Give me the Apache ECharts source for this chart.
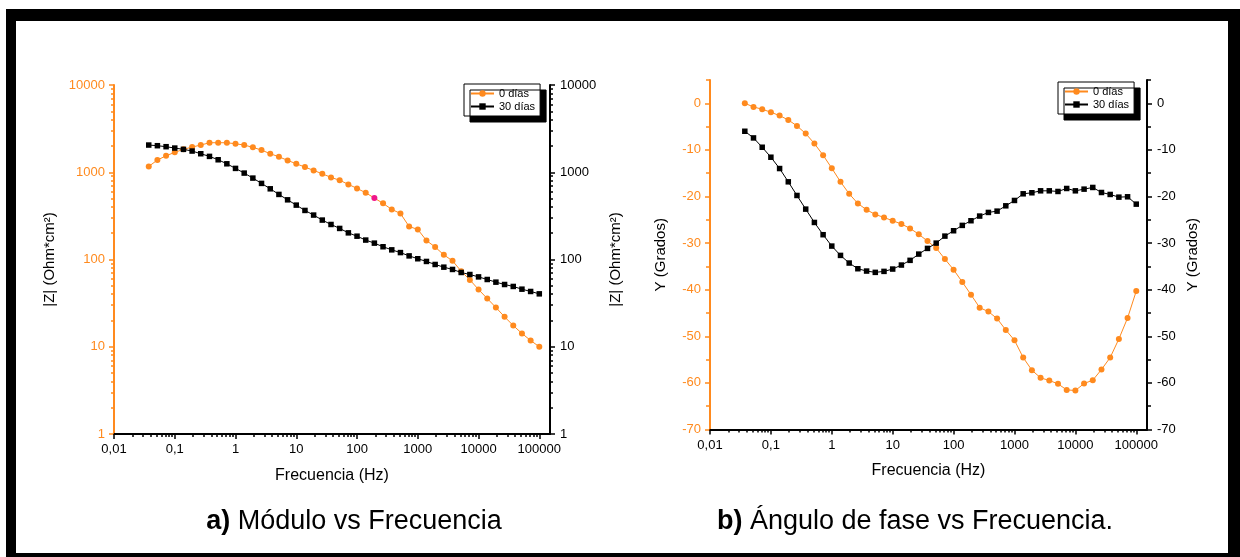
<!DOCTYPE html>
<html><head><meta charset="utf-8">
<script src="https://cdn.jsdelivr.net/npm/echarts@6/dist/echarts.min.js"></script>
<style>html,body{margin:0;padding:0;background:#fff}#c{width:1240px;height:557px}</style>
</head><body><div id="c"></div>
<script>
// ---- data ----
const freq = [0.0373, 0.0518, 0.0720, 0.1, 0.139, 0.193, 0.268, 0.373, 0.518, 0.720,
  1, 1.39, 1.93, 2.68, 3.73, 5.18, 7.20, 10, 13.9, 19.3, 26.8, 37.3, 51.8, 72.0,
  100, 139, 193, 268, 373, 518, 720, 1000, 1389, 1931, 2683, 3728, 5179, 7197,
  10000, 13895, 19307, 26827, 37276, 51795, 71969, 100000];
const modulo0 = [1167, 1380, 1545, 1690, 1830, 1945, 2050, 2180, 2180, 2180, 2120, 2050,
  1930, 1795, 1630, 1505, 1368, 1250, 1146, 1050, 960, 873, 810, 726, 653, 582, 506,
  440, 375, 337, 239, 221, 165, 139, 113, 96.6, 73.5, 58.4, 45.3, 35.7, 28.2, 22.0,
  17.5, 14.2, 11.8, 10.0];
const modulo30 = [2050, 2015, 1963, 1893, 1830, 1750, 1630, 1520, 1390, 1250, 1107, 978,
  857, 745, 646, 557, 483, 420, 365, 323, 283, 252, 227, 202, 185, 167, 154, 140, 129,
  120, 110, 102, 95, 87.7, 81.7, 76.9, 71.0, 67.3, 63.2, 59.0, 55.0, 51.7, 49.1, 45.7,
  43.0, 40.4];
const fase0 = [0, -0.78, -1.28, -1.92, -2.64, -3.57, -4.85, -6.5, -8.64, -11.14, -13.93,
  -16.85, -19.42, -21.5, -22.85, -23.85, -24.5, -25.2, -25.9, -26.85, -28.1, -29.57,
  -31.07, -33.43, -35.7, -38.36, -41.06, -43.85, -44.7, -46.2, -48.64, -50.85, -54.56,
  -57.27, -58.92, -59.48, -60.2, -61.5, -61.63, -60.13, -59.42, -57.13, -54.56, -50.56,
  -46.07, -40.28];
const fase30 = [-6.0, -7.43, -9.43, -11.57, -14.0, -16.85, -19.78, -22.71, -25.57, -28.2,
  -30.64, -32.64, -34.28, -35.5, -36.0, -36.28, -36.07, -35.57, -34.71, -33.7, -32.36,
  -31.14, -30.0, -28.5, -27.35, -26.2, -25.2, -24.2, -23.42, -23.14, -22.0, -20.85,
  -19.42, -19.2, -18.78, -18.78, -18.92, -18.28, -18.78, -18.42, -18.06, -19.14, -19.56,
  -20.14, -20.06, -21.64];
const highlightIndex0 = 26; // single magenta point in panel a
const seriesNames = ['0 días', '30 días'];
const xTickVals = [0.01, 0.1, 1, 10, 100, 1000, 10000, 100000];
const xTickText = ['0,01', '0,1', '1', '10', '100', '1000', '10000', '100000'];
const yTickValsA = [1, 10, 100, 1000, 10000];
const yTickTextA = ['1', '10', '100', '1000', '10000'];
const yTickValsB = [-70, -60, -50, -40, -30, -20, -10, 0];
const yMinorValsB = [-65, -55, -45, -35, -25, -15, -5, 5];
const captionA = ['a)', ' Módulo vs Frecuencia'];
const captionB = ['b)', ' Ángulo de fase vs Frecuencia.'];

// ---- styling ----
const ORANGE = '#FF8A1E';
const MAGENTA = '#F0168A';
const FONT = "'Liberation Sans', Arial, sans-serif";

function logMinors(lo, hi) {
  const out = [];
  for (let d = lo; d < hi; d++) for (let m = 2; m <= 9; m++) out.push(+(m * Math.pow(10, d)).toPrecision(6));
  return out;
}
function labelFrom(vals, texts) {
  return function (v) {
    for (let i = 0; i < vals.length; i++) if (Math.abs(v - vals[i]) <= Math.abs(vals[i]) * 1e-6 + 1e-9) return texts[i];
    return '';
  };
}
const xMinor = logMinors(-2, 5);
const yMinorA = logMinors(0, 4);

function xAxes(g) {
  return [{
    type: 'log', gridIndex: g, min: 0.01, max: 150000, position: 'bottom',
    axisLine: { onZero: false, lineStyle: { color: '#000', width: 2 } },
    axisTick: { customValues: xTickVals, length: 5, lineStyle: { color: '#000', width: 1.5 } },
    axisLabel: { customValues: xTickVals, formatter: labelFrom(xTickVals, xTickText), color: '#000', fontSize: 13, fontFamily: FONT, margin: 9 },
    splitLine: { show: false },
    name: 'Frecuencia (Hz)', nameLocation: 'middle', nameGap: g === 0 ? 34 : 33,
    nameTextStyle: { fontSize: 16, color: '#000', fontFamily: FONT }
  }, {
    type: 'log', gridIndex: g, min: 0.01, max: 150000, position: 'bottom',
    axisLine: { show: false, onZero: false },
    axisTick: { customValues: xMinor, length: 3, lineStyle: { color: '#000', width: 1.5 } },
    axisLabel: { show: false }, splitLine: { show: false }
  }];
}
function yAxesA(g) {
  const base = { type: 'log', gridIndex: g, min: 1, max: 10000, splitLine: { show: false } };
  const name = '|Z| (Ohm*cm²)';
  return [
    Object.assign({}, base, {
      position: 'left',
      axisLine: { onZero: false, lineStyle: { color: ORANGE, width: 2 } },
      axisTick: { customValues: yTickValsA, length: 5, lineStyle: { color: ORANGE, width: 1.5 } },
      axisLabel: { customValues: yTickValsA, formatter: labelFrom(yTickValsA, yTickTextA), color: ORANGE, fontSize: 13, fontFamily: FONT, margin: 9 },
      name: name, nameLocation: 'middle', nameGap: 57, nameTextStyle: { fontSize: 15, color: '#000', fontFamily: FONT }
    }),
    Object.assign({}, base, {
      position: 'left', axisLine: { show: false, onZero: false },
      axisTick: { customValues: yMinorA, length: 3, lineStyle: { color: ORANGE, width: 1.5 } },
      axisLabel: { show: false }
    }),
    Object.assign({}, base, {
      position: 'right',
      axisLine: { onZero: false, lineStyle: { color: '#000', width: 2 } },
      axisTick: { customValues: yTickValsA, length: 5, lineStyle: { color: '#000', width: 1.5 } },
      axisLabel: { customValues: yTickValsA, formatter: labelFrom(yTickValsA, yTickTextA), color: '#000', fontSize: 13, fontFamily: FONT, margin: 10 },
      name: name, nameLocation: 'middle', nameGap: 58, nameTextStyle: { fontSize: 15, color: '#000', fontFamily: FONT }
    }),
    Object.assign({}, base, {
      position: 'right', axisLine: { show: false, onZero: false },
      axisTick: { customValues: yMinorA, length: 3, lineStyle: { color: '#000', width: 1.5 } },
      axisLabel: { show: false }
    })
  ];
}
function yAxesB(g) {
  const base = { type: 'value', gridIndex: g, min: -70, max: 5, splitLine: { show: false } };
  const name = 'Y (Grados)';
  const lbl = v => String(v);
  return [
    Object.assign({}, base, {
      position: 'left',
      axisLine: { onZero: false, lineStyle: { color: ORANGE, width: 2 } },
      axisTick: { customValues: yTickValsB, length: 5, lineStyle: { color: ORANGE, width: 1.5 } },
      axisLabel: { customValues: yTickValsB, formatter: lbl, color: ORANGE, fontSize: 13, fontFamily: FONT, margin: 9 },
      name: name, nameLocation: 'middle', nameGap: 42, nameTextStyle: { fontSize: 15, color: '#000', fontFamily: FONT }
    }),
    Object.assign({}, base, {
      position: 'left', axisLine: { show: false, onZero: false },
      axisTick: { customValues: yMinorValsB, length: 4, lineStyle: { color: ORANGE, width: 1.5 } },
      axisLabel: { show: false }
    }),
    Object.assign({}, base, {
      position: 'right',
      axisLine: { onZero: false, lineStyle: { color: '#000', width: 2 } },
      axisTick: { customValues: yTickValsB, length: 5, lineStyle: { color: '#000', width: 1.5 } },
      axisLabel: { customValues: yTickValsB, formatter: lbl, color: '#000', fontSize: 13, fontFamily: FONT, margin: 10 },
      name: name, nameLocation: 'middle', nameGap: 38, nameTextStyle: { fontSize: 15, color: '#000', fontFamily: FONT }
    }),
    Object.assign({}, base, {
      position: 'right', axisLine: { show: false, onZero: false },
      axisTick: { customValues: yMinorValsB, length: 4, lineStyle: { color: '#000', width: 1.5 } },
      axisLabel: { show: false }
    })
  ];
}
function pts(ys, hi) {
  return freq.map((f, i) => (i === hi ? { value: [f, ys[i]], itemStyle: { color: MAGENTA } } : [f, ys[i]]));
}
function orangeSeries(ys, xi, yi, hi) {
  return { name: seriesNames[0], type: 'line', xAxisIndex: xi, yAxisIndex: yi, data: pts(ys, hi),
    symbol: 'circle', symbolSize: 6, color: ORANGE, itemStyle: { color: ORANGE },
    lineStyle: { color: ORANGE, width: 1 }, animation: false, z: 3 };
}
function blackSeries(ys, xi, yi) {
  return { name: seriesNames[1], type: 'line', xAxisIndex: xi, yAxisIndex: yi, data: pts(ys, -1),
    symbol: 'rect', symbolSize: 5.5, color: '#000', itemStyle: { color: '#000' },
    lineStyle: { color: '#000', width: 1 }, animation: false, z: 4 };
}
function legendAt(left, top) {
  return {
    data: seriesNames, orient: 'vertical', left: left, top: top, selectedMode: false,
    itemWidth: 23, itemHeight: 8, itemGap: 2, padding: [4, 5, 4, 6],
    backgroundColor: '#fff', borderColor: '#000', borderWidth: 1,
    shadowColor: '#000', shadowBlur: 0, shadowOffsetX: 6, shadowOffsetY: 6,
    textStyle: { fontSize: 11, fontFamily: FONT, color: '#000', lineHeight: 11 }
  };
}
const CAPFONT = "'Liberation Sans Narrow', 'Liberation Sans', Arial, sans-serif";
function caption(parts, x, y) {
  return { type: 'text', x: x, y: y, z: 10,
    style: { text: '{b|' + parts[0] + '}' + parts[1], textAlign: 'center', textVerticalAlign: 'middle',
      fill: '#000', font: "27px " + CAPFONT,
      rich: { b: { fontWeight: 'bold', fontSize: 27, fontFamily: CAPFONT } } } };
}

const chart = echarts.init(document.getElementById('c'), null, { renderer: 'canvas' });
chart.setOption({
  backgroundColor: '#fff',
  animation: false,
  grid: [
    { left: 114, top: 85, width: 436, height: 349 },
    { left: 710, top: 80, width: 437, height: 349.5 }
  ],
  xAxis: xAxes(0).concat(xAxes(1)),
  yAxis: yAxesA(0).concat(yAxesB(1)),
  legend: [legendAt(464, 84), legendAt(1058, 82)],
  series: [
    orangeSeries(modulo0, 0, 0, highlightIndex0),
    blackSeries(modulo30, 0, 0),
    orangeSeries(fase0, 2, 4, -1),
    blackSeries(fase30, 2, 4)
  ],
  graphic: [
    { type: 'rect', shape: { x: 6, y: 9, width: 1234, height: 12 }, style: { fill: '#000' } },
    { type: 'rect', shape: { x: 6, y: 9, width: 10, height: 548 }, style: { fill: '#000' } },
    { type: 'rect', shape: { x: 1228, y: 9, width: 12, height: 548 }, style: { fill: '#000' } },
    { type: 'rect', shape: { x: 6, y: 553, width: 1234, height: 4 }, style: { fill: '#000' } },
    caption(captionA, 354, 522),
    caption(captionB, 915, 522)
  ]
});
</script></body></html>
